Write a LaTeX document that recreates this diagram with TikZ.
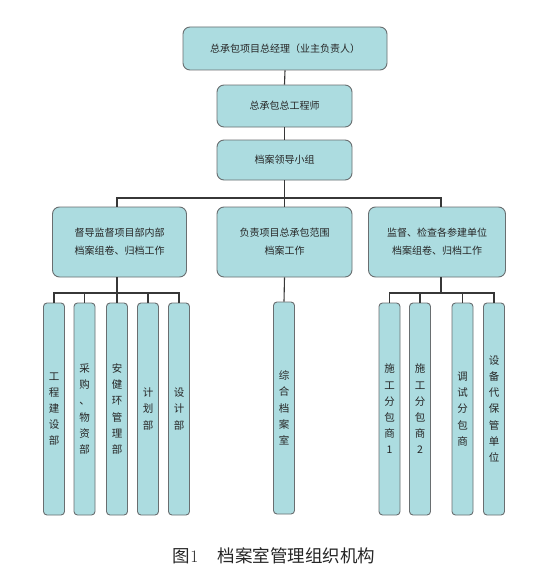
\documentclass[tikz,border=0pt]{standalone}
\usepackage{fontspec}
\newfontfamily\cjk{Noto Sans CJK SC}
\definecolor{boxfill}{RGB}{172,220,224}
\definecolor{boxline}{RGB}{105,110,112}
\definecolor{connc}{RGB}{55,55,55}
\begin{document}
\begin{tikzpicture}[x=1pt,y=-1pt,
  box/.style={draw=boxline,fill=boxfill,rounded corners=7pt,line width=0.9pt,inner sep=0pt,
    font=\cjk\fontsize{10}{18}\selectfont,align=center,text=black!85},
  col/.style={draw=boxline,fill=boxfill,rounded corners=3.5pt,line width=0.9pt,inner sep=0pt,
    minimum width=21pt,minimum height=212pt,font=\cjk\fontsize{10.5}{16.2}\selectfont,align=center,text=black!85},
  conn/.style={draw=connc,line width=1.1pt}]
\useasboundingbox (0,0) rectangle (539,578);
\fill[white] (0,0) rectangle (539,578);
% top chain
\node[box,minimum width=204pt,minimum height=43pt] (top) at (285,48.5) {总承包项目总经理（业主负责人）};
\node[box,minimum width=135pt,minimum height=42pt] (eng) at (284.5,106) {总承包总工程师};
\node[box,minimum width=135pt,minimum height=40pt] (lead) at (284.5,160) {档案领导小组};
% middle row
\node[box,minimum width=134pt,minimum height=70pt] (L) at (119.5,242) {督导监督项目部内部\\档案组卷、归档工作};
\node[box,minimum width=135pt,minimum height=70pt] (M) at (284.5,242) {负责项目总承包范围\\档案工作};
\node[box,minimum width=137pt,minimum height=70pt] (R) at (437,242) {监督、检查各参建单位\\档案组卷、归档工作};
% columns
\node[col] (c1) at (54,409) {工\\程\\建\\设\\部};
\node[col] (c2) at (84.5,409) {采\\购\\、\\物\\资\\部};
\node[col] (c3) at (117,409) {安\\健\\环\\管\\理\\部};
\node[col] (c4) at (148,409) {计\\划\\部};
\node[col] (c5) at (179,409) {设\\计\\部};
\node[col] (m1) at (284,408) {综\\合\\档\\案\\室};
\node[col] (r1) at (389.5,409) {施\\工\\分\\包\\商\\1};
\node[col] (r2) at (420,409) {施\\工\\分\\包\\商\\2};
\node[col] (r3) at (462.5,409) {调\\试\\分\\包\\商};
\node[col] (r4) at (494,409) {设\\备\\代\\保\\管\\单\\位};
% buses
\coordinate (busT) at (284.5,198);
\coordinate (busTR) at (441,198);
\coordinate (busTL) at (117,198);
\coordinate (busL) at (117,293);
\coordinate (busR) at (441,293);
% connectors
\draw[conn] (top.south) -- (eng.north);
\draw[conn] (eng.south) -- (lead.north);
\draw[conn] (lead.south) -- (M.north);
\draw[conn] (busTL |- L.north) -- (busTL) -- (busTR) -- (busTR |- R.north);
\draw[conn] (M.south) -- (m1.north);
\draw[conn] (busL |- L.south) -- (busL);
\draw[conn] (c1.north) |- (busL) -| (c5.north);
\draw[conn] (c2.north) -- (c2.north |- busL);
\draw[conn] (c3.north) -- (c3.north |- busL);
\draw[conn] (c4.north) -- (c4.north |- busL);
\draw[conn] (busR |- R.south) -- (busR);
\draw[conn] (r1.north) |- (busR) -| (r4.north);
\draw[conn] (r2.north) -- (r2.north |- busR);
\draw[conn] (r3.north) -- (r3.north |- busR);
% caption
\node[font=\cjk\fontsize{17.5}{18}\selectfont,text=black!85,inner sep=0pt] (cap) at (274,556) {图{\rmfamily 1}\hspace{1.1em}档案室管理组织机构};
\end{tikzpicture}
\end{document}
